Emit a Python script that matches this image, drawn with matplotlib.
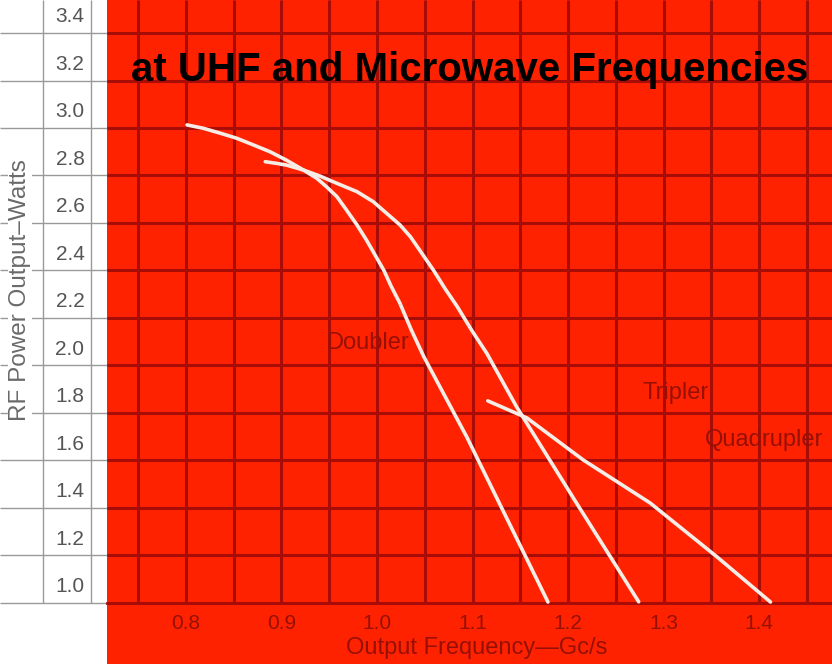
import numpy as np
import matplotlib
matplotlib.use("Agg")
import matplotlib.pyplot as plt

plt.rcParams['font.family'] = ['Liberation Sans', 'DejaVu Sans']

# curve data (GHz, watts)
doubler_x = [0.801, 0.818, 0.836, 0.853, 0.871, 0.888, 0.905, 0.923, 0.937, 0.947, 0.958,
             0.968, 0.979, 0.989, 0.998, 1.007, 1.015, 1.024, 1.036, 1.049, 1.094, 1.179]
doubler_y = [3.013, 2.999, 2.978, 2.957, 2.928, 2.900, 2.865, 2.823, 2.788, 2.753, 2.711,
             2.655, 2.592, 2.528, 2.465, 2.402, 2.332, 2.262, 2.149, 2.037, 1.699, 1.004]

tripler_x = [0.883, 0.895, 0.905, 0.923, 0.940, 0.958, 0.979, 0.996, 1.010, 1.024, 1.035,
             1.047, 1.059, 1.071, 1.084, 1.099, 1.115, 1.146, 1.209, 1.274]
tripler_y = [2.858, 2.851, 2.844, 2.823, 2.798, 2.767, 2.732, 2.690, 2.641, 2.592, 2.542,
             2.472, 2.402, 2.325, 2.248, 2.149, 2.051, 1.827, 1.420, 1.005]

quad_x = [1.116, 1.157, 1.216, 1.286, 1.356, 1.412]
quad_y = [1.851, 1.779, 1.602, 1.421, 1.194, 1.004]

xticks = [0.8, 0.9, 1.0, 1.1, 1.2, 1.3, 1.4]
xtick_labels = ["0.8", "0.9", "1.0", "1.1", "1.2", "1.3", "1.4"]
yticks = [1.0, 1.2, 1.4, 1.6, 1.8, 2.0, 2.2, 2.4, 2.6, 2.8, 3.0, 3.2, 3.4]
ytick_labels = ["1.0", "1.2", "1.4", "1.6", "1.8", "2.0", "2.2", "2.4", "2.6", "2.8", "3.0", "3.2", "3.4"]

RED = '#ff2200'
GRID = '#a80c06'
INK = '#961005'
CURVE = '#f7ece6'
GRAY = '#9a9a9a'

XMIN, XMAX = 0.7173, 1.4764
YMIN, YMAX = 0.743, 3.539

fig = plt.figure(figsize=(8.32, 6.64), dpi=100)
fig.patch.set_facecolor('white')

# white strip with the y scale
strip = fig.add_axes([0, 0, 107/832, 1])
strip.set_xlim(0, 107)
strip.set_ylim(YMIN, YMAX)
strip.axis('off')
strip.hlines(yticks, 0, 107, colors=GRAY, lw=1)
strip.vlines([43, 91], 1.0, YMAX, colors=GRAY, lw=1)
for v, lab in zip(yticks, ytick_labels):
    strip.text(70, v + 0.068, lab, ha='center', va='center', fontsize=15, color='#555555')
strip.text(20, 2.318, "RF Power Output\u2013Watts", rotation=90, ha='center', va='center',
           fontsize=17.5, color='#6a6a6a',
           bbox=dict(facecolor='white', edgecolor='none', pad=1))

# red chart area
ax = fig.add_axes([107/832, 0, 725/832, 1])
ax.set_facecolor(RED)
ax.set_xlim(XMIN, XMAX)
ax.set_ylim(YMIN, YMAX)
for s in ['top', 'right', 'left']:
    ax.spines[s].set_visible(False)
ax.spines['bottom'].set_position(('data', 1.0))
ax.spines['bottom'].set_color(GRID)
ax.spines['bottom'].set_linewidth(2)

ax.vlines(np.arange(0.75, 1.46, 0.05), 1.0, YMAX, colors=GRID, lw=2.2, zorder=1)
ax.hlines(yticks, XMIN, XMAX, colors=GRID, lw=2.2, zorder=1)

ax.set_xticks(xticks)
ax.set_xticklabels(xtick_labels)
ax.set_yticks([])
ax.tick_params(axis='x', length=0, pad=8, labelsize=15, labelcolor=INK)
ax.set_xlabel("Output Frequency\u2014Gc/s", fontsize=17, color=INK, labelpad=4)
ax.xaxis.set_label_coords(0.51, -0.01, transform=ax.transAxes)
ax.xaxis.label.set_va('center')
ax.xaxis.label.set_y(0.024)

for xs, ys in [(doubler_x, doubler_y), (tripler_x, tripler_y), (quad_x, quad_y)]:
    ax.plot(xs, ys, color=CURVE, lw=2.6, solid_capstyle='round',
            solid_joinstyle='round', zorder=3)

ax.text(0.990, 2.095, "Doubler", ha='center', va='center', fontsize=17, color=INK)
ax.text(1.313, 1.884, "Tripler", ha='center', va='center', fontsize=17, color=INK)
ax.text(1.343, 1.686, "Quadrupler", ha='left', va='center', fontsize=17, color=INK, clip_on=True)

ax.text(1.097, 3.244, "at UHF and Microwave Frequencies", ha='center', va='center',
        fontsize=29, fontweight='bold', color='black')

fig.savefig("out.png", dpi=100)
